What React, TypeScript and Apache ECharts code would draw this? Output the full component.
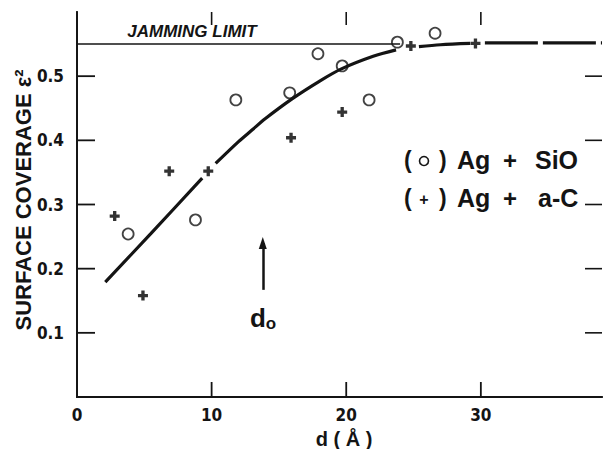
import React, { useEffect, useRef } from 'react';
import * as echarts from 'echarts';

const xTickValues = [10, 20, 30];
const yTickValues = [0.1, 0.2, 0.3, 0.4, 0.5];
const agSiO: number[][] = [
  [3.8, 0.254], [8.8, 0.276], [11.8, 0.463], [15.8, 0.474], [17.9, 0.535],
  [19.7, 0.516], [21.7, 0.463], [23.8, 0.553], [26.6, 0.567],
];
const agAC: number[][] = [
  [2.8, 0.282], [4.9, 0.158], [6.85, 0.352], [9.75, 0.352], [15.9, 0.404],
  [19.7, 0.444], [24.8, 0.547], [29.6, 0.551],
];
const fitSolid: (number[] | null)[] = [
  [2.1, 0.179], [5.5, 0.255], [9.3, 0.341], null,
  [10.3, 0.364], [12, 0.398], [13, 0.416], [14, 0.434], [16, 0.465], [18, 0.492],
  [19.6, 0.511], [22, 0.531], [23.7, 0.541], null,
  [25.4, 0.546], [27, 0.549], [29.2, 0.551],
];
const fitDashed: number[][] = [[30.3, 0.552], [39, 0.552]];
const jamming: number[][] = [[0, 0.55], [24, 0.55]];
const arrowD = 13.8;
const arrowFrom = 0.167;
const arrowTo = 0.24;
const X_MIN = 0;
const X_MAX = 39;
const Y_MIN = 0;
const Y_MAX = 0.6;

const INK = '#141414';
const NARROW = "'Liberation Sans Narrow', 'DejaVu Sans Condensed', 'Liberation Sans', sans-serif";
const SANS = "'Liberation Sans', Arial, sans-serif";

const plusPath = 'path://M3,0H6V3H9V6H6V9H3V6H0V3H3Z';

export default function App() {
  const ref = useRef<HTMLDivElement>(null);
  useEffect(() => {
    if (!ref.current) return;
    const chart = echarts.init(ref.current, null, { renderer: 'svg' });
    const axisLine = { show: true, lineStyle: { color: INK, width: 1.8 } };
    const noTick = { show: false };
    const legendRow = (y: number, sym: 'circle' | 'plus', name: string, nameX: number) => {
      const items: any[] = [
        { type: 'text', x: 404, y, style: { text: '(', font: `bold 23px ${SANS}`, fill: INK, verticalAlign: 'middle' } },
        { type: 'text', x: 439, y, style: { text: ')', font: `bold 23px ${SANS}`, fill: INK, verticalAlign: 'middle' } },
        { type: 'text', x: 457, y, style: { text: 'Ag', font: `bold 25px ${SANS}`, fill: INK, verticalAlign: 'middle' } },
        { type: 'text', x: 503, y, style: { text: '+', font: `bold 24px ${SANS}`, fill: INK, verticalAlign: 'middle' } },
        { type: 'text', x: nameX, y, style: { text: name, font: `bold 25px ${SANS}`, fill: INK, verticalAlign: 'middle' } },
      ];
      if (sym === 'circle') {
        items.push({ type: 'circle', shape: { cx: 424, cy: y + 1, r: 4.5 }, style: { fill: 'none', stroke: INK, lineWidth: 1.6 } });
      } else {
        items.push({ type: 'text', x: 424, y: y + 1, style: { text: '+', font: `bold 16px ${SANS}`, fill: INK, align: 'center', verticalAlign: 'middle' } });
      }
      return items;
    };
    const tickLine = (x1: number, y1: number, x2: number, y2: number, w: number) => ({
      type: 'line', shape: { x1, y1, x2, y2 }, style: { stroke: INK, lineWidth: w },
    });
    chart.setOption({
      animation: false,
      grid: { left: 77, right: 2, top: 12, bottom: 52 },
      xAxis: [
        {
          type: 'value', position: 'bottom', min: X_MIN, max: X_MAX, interval: 10,
          axisLine, splitLine: { show: false }, axisTick: noTick,
          axisLabel: { color: INK, fontFamily: NARROW, fontWeight: 'bold', fontSize: 17, margin: 9, showMaxLabel: false },
        },
        {
          type: 'value', position: 'top', min: X_MIN, max: X_MAX, interval: 10,
          axisLine, splitLine: { show: false }, axisTick: noTick,
          axisLabel: { show: false },
        },
      ],
      yAxis: [
        {
          type: 'value', position: 'left', min: Y_MIN, max: Y_MAX, interval: 0.1,
          axisLine, splitLine: { show: false }, axisTick: noTick,
          axisLabel: {
            color: INK, fontFamily: NARROW, fontWeight: 'bold', fontSize: 17, margin: 13,
            formatter: (v: number) => {
              const hit = yTickValues.find((t) => Math.abs(t - v) < 1e-6);
              return hit !== undefined ? hit.toFixed(1) : '';
            },
          },
        },
        {
          type: 'value', position: 'right', min: Y_MIN, max: Y_MAX, interval: 0.1,
          axisLine, splitLine: { show: false }, axisTick: noTick,
          axisLabel: { show: false },
        },
      ],
      series: [
        {
          name: 'x-ticks', type: 'custom', silent: true, clip: false,
          data: xTickValues.map((v) => [v, Y_MIN]),
          renderItem: (_p: any, api: any) => {
            const b = api.coord([api.value(0), Y_MIN]);
            const t = api.coord([api.value(0), Y_MAX]);
            return {
              type: 'group',
              children: [tickLine(b[0], b[1], b[0], b[1] - 15, 1.8), tickLine(t[0], t[1], t[0], t[1] + 13, 1.6)],
            };
          },
        },
        {
          name: 'y-ticks', type: 'custom', silent: true, clip: false,
          data: yTickValues.map((v) => [X_MIN, v]),
          renderItem: (_p: any, api: any) => {
            const l = api.coord([X_MIN, api.value(1)]);
            const r = api.coord([X_MAX, api.value(1)]);
            return {
              type: 'group',
              children: [tickLine(l[0], l[1], l[0] + 18, l[1], 1.8), tickLine(r[0], r[1], r[0] - 17, r[1], 1.6)],
            };
          },
        },
        {
          name: 'jamming', type: 'line', data: jamming, symbol: 'none',
          lineStyle: { color: INK, width: 1.5 },
          markLine: {
            silent: true, symbol: ['none', 'triangle'], symbolSize: [8, 12],
            label: { show: false },
            lineStyle: { color: INK, width: 2.5, type: 'solid' },
            data: [[{ coord: [arrowD, arrowFrom] }, { coord: [arrowD, arrowTo] }]],
          },
        },
        {
          name: 'fit', type: 'line', data: fitSolid, symbol: 'none', smooth: 0.3,
          connectNulls: false, lineStyle: { color: INK, width: 3.2 },
        },
        {
          name: 'fit-dashed', type: 'line', data: fitDashed, symbol: 'none',
          lineStyle: { color: INK, width: 3.2, type: [53, 5] },
        },
        {
          name: 'Ag + SiO', type: 'scatter', data: agSiO, symbol: 'circle', symbolSize: 11,
          itemStyle: { color: '#fff', borderColor: INK, borderWidth: 1.8 },
        },
        {
          name: 'Ag + a-C', type: 'scatter', data: agAC, symbol: plusPath, symbolSize: 10,
          itemStyle: { color: '#000' },
        },
      ],
      graphic: [
        { type: 'text', x: 192, y: 31, style: { text: 'JAMMING LIMIT', font: `italic bold 17px ${SANS}`, fill: INK, align: 'center', verticalAlign: 'middle' } },
        { type: 'text', x: 23, y: 200, rotation: Math.PI / 2, style: { text: 'SURFACE COVERAGE ε²', font: `bold 22px ${SANS}`, fill: INK, align: 'center', verticalAlign: 'middle' } },
        { type: 'text', x: 344, y: 439, style: { text: 'd ( Å )', font: `bold 20px ${SANS}`, fill: INK, align: 'center', verticalAlign: 'middle' } },
        {
          type: 'text', x: 263, y: 318,
          style: {
            text: 'd{s|o}', fill: INK, align: 'center', verticalAlign: 'middle',
            font: `bold 26px ${SANS}`,
            rich: { s: { font: `bold 17px ${SANS}`, fill: INK, padding: [10, 0, 0, 0] } },
          },
        },
        ...legendRow(160, 'circle', 'SiO', 535),
        ...legendRow(198, 'plus', 'a-C', 538),
      ],
    });
    return () => chart.dispose();
  }, []);
  return <div ref={ref} style={{ position: 'absolute', left: 0, top: 0, width: 604, height: 449 }} />;
}
